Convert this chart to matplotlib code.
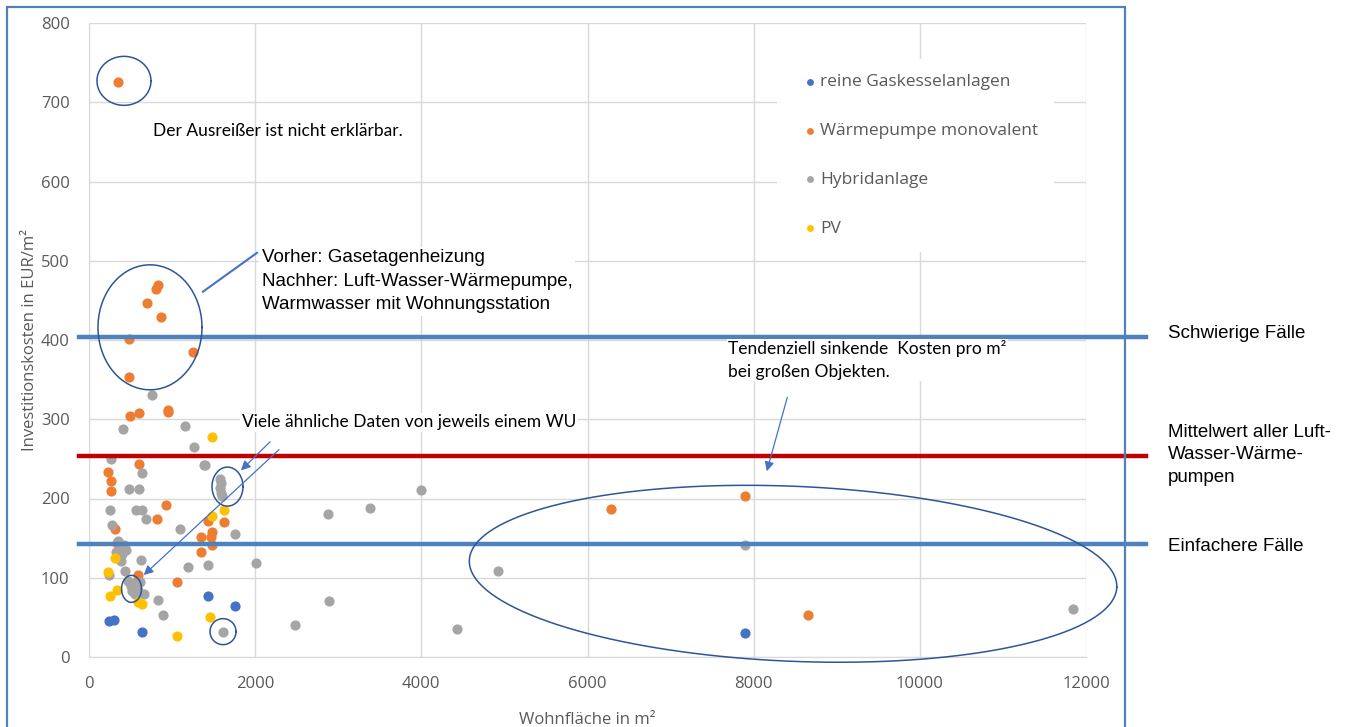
import numpy as np
import matplotlib
matplotlib.use("Agg")
import matplotlib.pyplot as plt
from matplotlib.patches import Rectangle

# Daten (Wohnfläche in m², Investitionskosten in EUR/m²)
gas_x = [245, 305, 634, 1432, 1761, 7891]
gas_y = [45, 47, 32, 77, 64, 30]

wp_x = [345, 830, 806, 698, 867, 481, 1252, 481, 493, 602, 951, 951, 606, 233, 265, 261,
        923, 819, 1428, 1629, 313, 1485, 1470, 1345, 333, 1476, 1345, 594, 1063,
        6283, 7891, 8658]
wp_y = [725, 469, 464, 447, 429, 401, 385, 353, 304, 308, 312, 309, 244, 234, 222, 210,
        192, 174, 172, 170, 162, 158, 152, 152, 144, 141, 132, 103, 95,
        187, 203, 53]

hyb_x = [758, 409, 1155, 1264, 265, 1380, 1400, 642, 1580, 1590, 1575, 1585, 1595, 486, 606,
         249, 566, 638, 686, 273, 1096, 1761,
         350, 380, 420, 330, 400, 360, 390, 440,
         630, 1188, 1432, 2006, 245, 433,
         470, 500, 530, 560, 520, 550, 580, 610,
         666, 827, 895, 1617,
         3993, 2881, 3379, 2893, 2484, 4430, 4923, 7891, 11849]
hyb_y = [331, 288, 291, 265, 250, 242, 242, 232, 224, 219, 213, 207, 203, 212, 212,
         186, 185, 185, 174, 167, 161, 155,
         146, 138, 141, 133, 130, 126, 121, 135,
         122, 114, 116, 119, 103, 108,
         96, 90, 93, 88, 83, 80, 86, 95,
         80, 72, 53, 31,
         211, 180, 188, 71, 41, 35, 108, 141, 61]

pv_x = [1480, 1629, 1485, 309, 233, 333, 253, 594, 638, 1456, 1063]
pv_y = [277, 185, 178, 125, 107, 84, 77, 70, 67, 50, 27]

# Grenzlinien
grenze_schwierig = 404
mittelwert_lw = 253
grenze_einfach = 142

W, H = 1367, 727
fig = plt.figure(figsize=(W / 100, H / 100), dpi=100)
left, right, bottom, top = 89 / W, 1086 / W, 1 - 657 / H, 1 - 23 / H
ax = fig.add_axes([left, bottom, right - left, top - bottom])

xmax, ymax = 12000, 800
ax.set_xlim(0, xmax)
ax.set_ylim(0, ymax)
ax.set_xticks(np.arange(0, 12001, 2000))
ax.set_yticks(np.arange(0, 801, 100))
ax.grid(True, color='#D9D9D9', linewidth=1)
ax.set_axisbelow(True)
for s in ['top', 'right']:
    ax.spines[s].set_visible(False)
for s in ['left', 'bottom']:
    ax.spines[s].set_color('#D9D9D9')
ax.tick_params(length=0, labelsize=12, labelcolor='#595959')
ax.tick_params(axis='x', pad=14)
ax.tick_params(axis='y', pad=14)
for lab in ax.get_xticklabels() + ax.get_yticklabels():
    lab.set_family('Open Sans')

ax.set_xlabel('Wohnfläche in m²', fontsize=12, color='#595959', family='Open Sans', labelpad=14)
ax.set_ylabel('Investitionskosten in EUR/m²', fontsize=12, color='#595959', family='Open Sans', labelpad=2)

ms = 40
ax.scatter(gas_x, gas_y, s=ms, color='#4472C4', label='reine Gaskesselanlagen', zorder=3)
ax.scatter(wp_x, wp_y, s=ms, color='#ED7D31', label='Wärmepumpe monovalent', zorder=3)
ax.scatter(hyb_x, hyb_y, s=ms, color='#A5A5A5', label='Hybridanlage', zorder=3)
ax.scatter(pv_x, pv_y, s=ms, color='#FFC000', label='PV', zorder=3)

leg = ax.legend(loc='upper left', bbox_to_anchor=((768 - 89) / 997, 1 - (50 - 23) / 634),
                frameon=True, facecolor='white', edgecolor='none', framealpha=1,
                labelspacing=1.88, handletextpad=-0.4, markerscale=0.62,
                borderpad=0.9, prop={'family': 'Open Sans', 'size': 12.5})
for t in leg.get_texts():
    t.set_color('#595959')

# Pixel -> Datenumrechnung
sx = (right - left) * W / xmax
sy = (top - bottom) * H / ymax


def ellipse(cx, cy, w_px, h_px, ang=0.0):
    t = np.linspace(0, 2 * np.pi, 300)
    a = np.deg2rad(ang)
    dx = w_px / 2 * np.cos(t) * np.cos(a) - h_px / 2 * np.sin(t) * np.sin(a)
    dy = w_px / 2 * np.cos(t) * np.sin(a) + h_px / 2 * np.sin(t) * np.cos(a)
    ax.plot(cx + dx / sx, cy + dy / sy, color='#2F5597', linewidth=1.1, clip_on=False, zorder=5)


# Horizontale Linien
ax.plot([-120, 12720], [grenze_schwierig] * 2, color='#4F81BD', linewidth=3.2, clip_on=False, zorder=4)
ax.plot([-120, 12720], [mittelwert_lw] * 2, color='#C00000', linewidth=3.2, clip_on=False, zorder=4)
ax.plot([-120, 12720], [grenze_einfach] * 2, color='#4F81BD', linewidth=3.2, clip_on=False, zorder=4)

rtx = 12990
ax.text(rtx, grenze_schwierig + 4, 'Schwierige Fälle', fontsize=13.5, family='Liberation Sans',
        va='center', ha='left', clip_on=False)
ax.text(rtx, mittelwert_lw + 2, 'Mittelwert aller Luft-\nWasser-Wärme-\npumpen', fontsize=13.5,
        family='Liberation Sans', va='center', ha='left', linespacing=1.45, clip_on=False)
ax.text(rtx, grenze_einfach - 2, 'Einfachere Fälle', fontsize=13.5, family='Liberation Sans',
        va='center', ha='left', clip_on=False)

# Markierungen
ellipse(421, 727, 54, 49)
ellipse(734, 416, 104, 125)
ellipse(1667, 215, 31, 39)
ellipse(512, 86, 20, 27)
ellipse(1613, 32, 26, 26)
ellipse(8474, 105, 648, 175, -2.4)

# Anmerkungen
ax.text(775, 664, 'Der Ausreißer ist nicht erklärbar.', fontsize=12.5, family='Lato',
        va='center', ha='left')
ax.plot([1372, 2022], [461, 510], color='#4472C4', linewidth=1.5, zorder=5)
ax.text(2080, 474, 'Vorher: Gasetagenheizung\nNachher: Luft-Wasser-Wärmepumpe,\nWarmwasser mit Wohnungsstation',
        fontsize=13.5, family='Liberation Sans', va='center', ha='left', linespacing=1.5, zorder=6,
        bbox=dict(facecolor='white', edgecolor='none', pad=2))
ax.text(1840, 296, 'Viele ähnliche Daten von jeweils einem WU', fontsize=12.5, family='Lato',
        va='center', ha='left', zorder=6, bbox=dict(facecolor='white', edgecolor='none', pad=1))
arr = dict(arrowstyle='-|>', color='#4472C4', linewidth=0.9, mutation_scale=14)
ax.annotate('', xy=(1805, 233), xytext=(2203, 274), arrowprops=arr, zorder=6)
ax.annotate('', xy=(634, 101), xytext=(2311, 264), arrowprops=arr, zorder=6)
ax.text(7690, 375, 'Tendenziell sinkende  Kosten pro m²\nbei großen Objekten.', fontsize=12.5,
        family='Lato', va='center', ha='left', linespacing=1.5, zorder=6,
        bbox=dict(facecolor='white', edgecolor='none', pad=1))
ax.annotate('', xy=(8149, 231), xytext=(8414, 331), arrowprops=arr, zorder=6)

# Rahmen des Diagramms
fig.add_artist(Rectangle((7 / W, -0.01), (1125 - 7) / W, 1 - 7 / H + 0.01, transform=fig.transFigure,
                         fill=False, edgecolor='#4F81BD', linewidth=1.6))

fig.savefig('out.png', dpi=100)
